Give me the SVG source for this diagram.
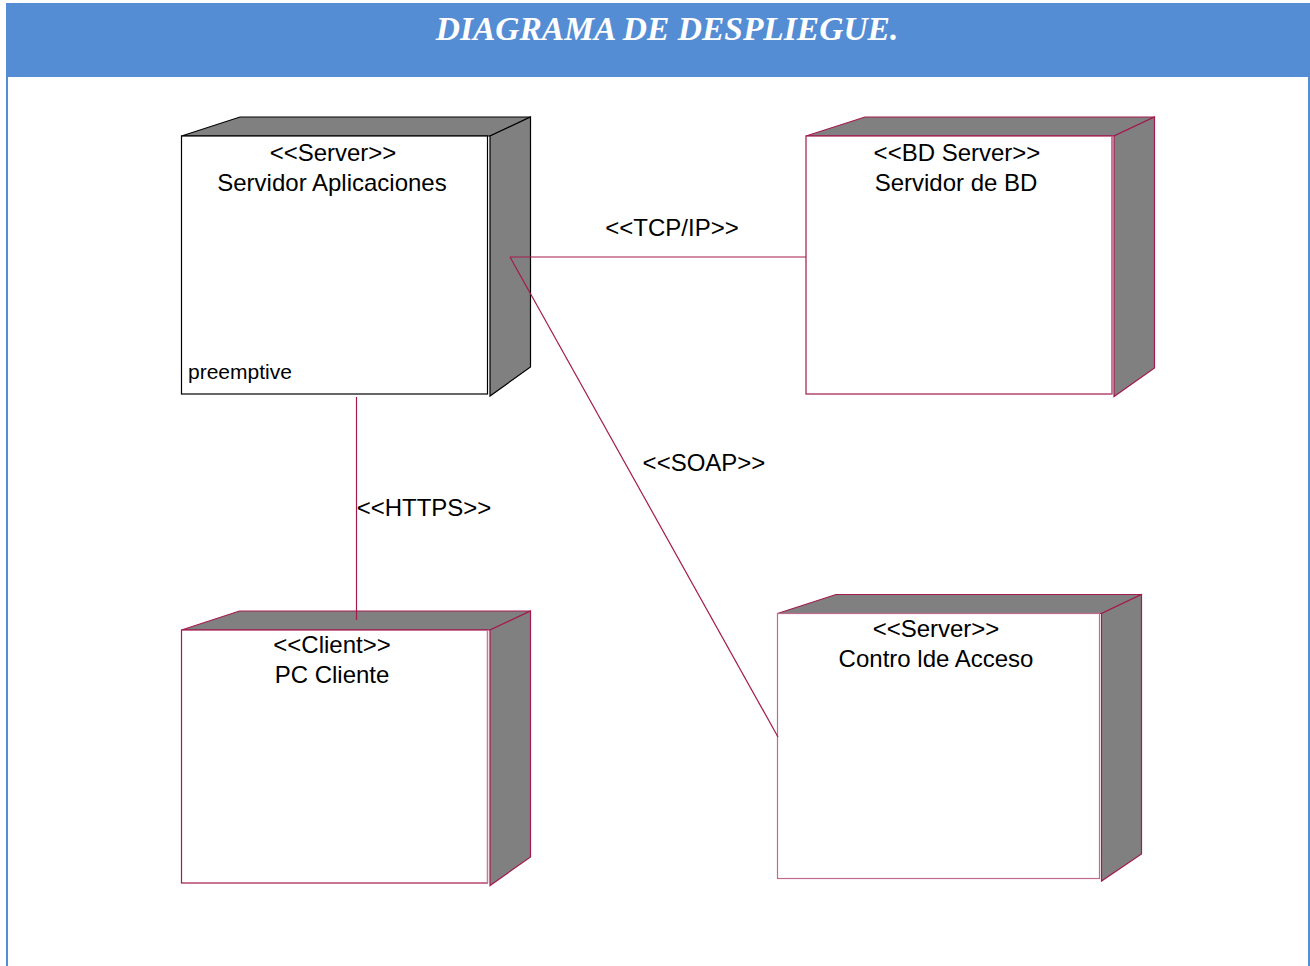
<svg xmlns="http://www.w3.org/2000/svg" width="1310" height="966" viewBox="0 0 1310 966">
<style>
.t{font-family:"Liberation Sans",Arial,sans-serif;font-size:24px;fill:#000;text-anchor:middle}
.s{font-family:"Liberation Sans",Arial,sans-serif;font-size:21px;fill:#000}
.face{fill:#808080}
.front{fill:#fff}
.con{stroke:#A31A4E;stroke-width:1.2;fill:none}
</style>
<rect x="0" y="0" width="1310" height="966" fill="#fff"/>
<rect x="6" y="3" width="1304" height="74" fill="#548DD4"/>
<line x1="7" y1="77" x2="7" y2="966" stroke="#548DD4" stroke-width="2"/>
<line x1="1309" y1="77" x2="1309" y2="966" stroke="#548DD4" stroke-width="2"/>
<text x="667" y="40" font-family="'Liberation Serif','Times New Roman',serif" font-size="33.5" font-weight="bold" font-style="italic" fill="#fff" text-anchor="middle">DIAGRAMA DE DESPLIEGUE.</text>

<g id="node-servidor-aplicaciones" stroke="#000" stroke-width="1.2">
<polygon class="face" points="181.5,136 240,117 530.5,117 490,136"/>
<polygon class="face" points="490,136 530.5,117 530.5,367 490,396"/>
<rect class="front" x="181.5" y="136" width="306" height="258"/>
<text class="t" x="333" y="161" stroke="none">&lt;&lt;Server&gt;&gt;</text>
<text class="t" x="332" y="191" stroke="none">Servidor Aplicaciones</text>
<text class="s" x="188" y="379" stroke="none">preemptive</text>
</g>

<g id="node-servidor-bd" stroke="#A31A4E" stroke-width="1.2">
<polygon class="face" points="806,136 865,117 1154.5,117 1114,136"/>
<polygon class="face" points="1114,136 1154.5,117 1154.5,368 1114,396.5"/>
<rect class="front" x="806" y="136" width="306" height="258"/>
<line x1="1112" y1="136" x2="1112" y2="394" stroke="#C9789A"/>
<text class="t" x="957" y="161" stroke="none">&lt;&lt;BD Server&gt;&gt;</text>
<text class="t" x="956" y="191" stroke="none">Servidor de BD</text>
</g>

<g id="node-pc-cliente" stroke="#A31A4E" stroke-width="1.2">
<polygon class="face" points="181.5,630 239.5,611 530.5,611 490,630"/>
<polygon class="face" points="490,630 530.5,611 530.5,857 490,885.5"/>
<rect class="front" x="181.5" y="630" width="306" height="253"/>
<line x1="487.5" y1="630" x2="487.5" y2="883" stroke="#C9789A"/>
<text class="t" x="332" y="653" stroke="none">&lt;&lt;Client&gt;&gt;</text>
<text class="t" x="332" y="683" stroke="none">PC Cliente</text>
</g>

<g id="node-control-acceso" stroke="#A31A4E" stroke-width="1.2">
<polygon class="face" points="777.5,613.5 836,594.5 1141.5,594.5 1101.5,613.5"/>
<polygon class="face" points="1101.5,613.5 1141.5,594.5 1141.5,854 1101.5,881"/>
<rect class="front" x="777.5" y="613.5" width="322" height="265" stroke="#C06A8E"/>
<text class="t" x="936" y="637" stroke="none">&lt;&lt;Server&gt;&gt;</text>
<text class="t" x="936" y="667" stroke="none">Contro lde Acceso</text>
</g>

<g id="connectors">
<line class="con" x1="510" y1="257" x2="806" y2="257"/>
<line class="con" x1="510" y1="257" x2="778" y2="737"/>
<line class="con" x1="356.5" y1="397" x2="356.5" y2="620"/>
<text class="t" x="672" y="236">&lt;&lt;TCP/IP&gt;&gt;</text>
<text class="t" x="704" y="471">&lt;&lt;SOAP&gt;&gt;</text>
<text class="t" x="424" y="516">&lt;&lt;HTTPS&gt;&gt;</text>
</g>
</svg>
